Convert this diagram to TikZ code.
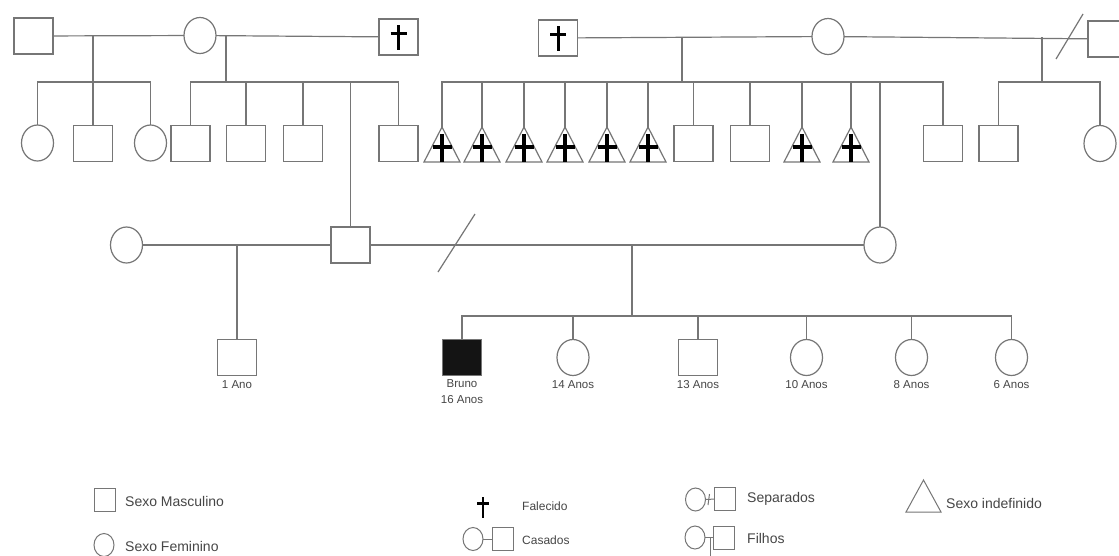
\documentclass[tikz,border=0pt]{standalone}
\usepackage{fontspec}
\setmainfont{Liberation Sans}
\usetikzlibrary{shapes.geometric}
\definecolor{lnc}{RGB}{118,118,118}
\definecolor{txc}{RGB}{70,70,70}
\begin{document}
\begin{tikzpicture}[x=1pt,y=-1pt,
  ln/.style={draw=lnc, line width=1.2pt},
  male/.style={rectangle, draw=lnc, line width=1.2pt, minimum width=39pt, minimum height=36pt, inner sep=0pt, outer sep=0pt},
  fem/.style={ellipse, draw=lnc, line width=1.2pt, minimum width=32pt, minimum height=36pt, inner sep=0pt, outer sep=0pt},
  unk/.style={rectangle, minimum width=36pt, minimum height=35pt, inner sep=0pt, outer sep=0pt},
  crossln/.style={draw=black, line width=3.2pt},
  lab/.style={text=txc, font=\fontsize{11.5}{13}\selectfont, inner sep=0pt},
  leg/.style={text=txc, font=\fontsize{14}{16}\selectfont, inner sep=0pt, anchor=west},
  legs/.style={text=txc, font=\fontsize{12}{14}\selectfont, inner sep=0pt, anchor=west},
  smale/.style={male, line width=1pt, minimum width=21pt, minimum height=23pt},
  sfem/.style={fem, line width=1pt, minimum width=20pt, minimum height=23pt},
]
\useasboundingbox (0,0) rectangle (1119,555);
\fill[white] (0,0) rectangle (1119,555);

% ---------- Generation I ----------
\node[male] (A) at (33.5,36) {};
\node[fem]  (B) at (200,35.5) {};
\node[male] (C) at (398.5,37) {};
\node[male] (D) at (558,38) {};
\node[fem]  (E) at (828,36.5) {};
\node[male] (F) at (1107.5,39) {};
% crosses (deceased)
\draw[crossln, line width=3pt] (398.5,25) -- (398.5,50);
\draw[crossln, line width=3pt] (390.5,33) -- (406.5,33);
\draw[crossln, line width=3pt] (558,26) -- (558,51);
\draw[crossln, line width=3pt] (550,34) -- (566,34);

% ---------- Generation I children ----------
\node[fem]  (a1) at (37.5,143) {};
\node[male] (a2) at (93,143.5) {};
\node[fem]  (a3) at (150.5,143) {};
\node[male] (b1) at (190.5,143.5) {};
\node[male] (b2) at (246,143.5) {};
\node[male] (b3) at (303,143.5) {};
\node[male] (b4) at (398.5,143.5) {};
\node[unk]  (t1) at (442,144.5) {};
\node[unk]  (t2) at (482,144.5) {};
\node[unk]  (t3) at (524,144.5) {};
\node[unk]  (t4) at (565,144.5) {};
\node[unk]  (t5) at (607,144.5) {};
\node[unk]  (t6) at (648,144.5) {};
\node[male] (s7) at (693.5,143.5) {};
\node[male] (s8) at (750,143.5) {};
\node[unk]  (t9) at (802,144.5) {};
\node[unk]  (t10) at (851,144.5) {};
\node[male] (s11) at (943,143.5) {};
\node[male] (r1) at (998.5,143.5) {};
\node[fem]  (r2) at (1100,143.5) {};

\foreach \n in {t1,t2,t3,t4,t5,t6,t9,t10}{
  \draw[ln] (\n.south west) -- (\n.south east) -- (\n.north) -- cycle;
  \draw[crossln, line width=3.6pt] ([yshift=-7pt]\n.north) -- (\n.south);
  \draw[crossln, line width=3.6pt] ([xshift=-9.5pt,yshift=-20pt]\n.north) -- ([xshift=9.5pt,yshift=-20pt]\n.north);
}

% ---------- Generation II ----------
\node[fem]  (G) at (126.5,245) {};
\node[male] (H) at (350.5,245) {};
\node[fem]  (I) at (880,245) {};

% ---------- Generation III ----------
\node[male] (K) at (237,357.5) {};
\node[male, fill=black!92] (P) at (462,357.5) {};
\node[fem]  (g14) at (573,357.5) {};
\node[male] (b13) at (698,357.5) {};
\node[fem]  (g10) at (806.5,357.5) {};
\node[fem]  (g8) at (911.5,357.5) {};
\node[fem]  (g6) at (1011.5,357.5) {};

\node[lab] (lK) at (237,385) {1 Ano};
\node[lab] (lP1) at (462,383.5) {Bruno};
\node[lab] (lP2) at (462,400) {16 Anos};
\node[lab] (l14) at (573,385) {14 Anos};
\node[lab] (l13) at (698,385) {13 Anos};
\node[lab] (l10) at (806.5,385) {10 Anos};
\node[lab] (l8) at (911.5,385) {8 Anos};
\node[lab] (l6) at (1011.5,385) {6 Anos};

% ---------- Connectors ----------
\coordinate (jAB) at (93,35);
\coordinate (sAB) at (93,82);
\draw[ln] (A) -- (B);
\draw[ln] (jAB) -- (sAB);
\draw[ln] (a1) |- (sAB) -| (a3);
\draw[ln] (sAB) -- (a2);

\coordinate (jBC) at (226,36);
\coordinate (sBC) at (226,82);
\draw[ln] (B) -- (C);
\draw[ln] (jBC) -- (sBC);
\draw[ln] (b1) |- (sBC) -| (b4);
\draw[ln] (b2) -- (b2 |- sBC);
\draw[ln] (b3) -- (b3 |- sBC);
\draw[ln] (H) -- (H |- sBC);

\coordinate (jDE) at (682,37);
\coordinate (sDE) at (682,82);
\draw[ln] (D) -- (E);
\draw[ln] (jDE) -- (sDE);
\draw[ln] (t1) |- (sDE) -| (s11);
\foreach \n in {t2,t3,t4,t5,t6,s7,s8,t9,t10,I}{
  \draw[ln] (\n) -- (\n |- sDE);
}

\coordinate (jEF) at (1042,37);
\coordinate (sEF) at (1042,82);
\draw[ln] (E) -- (F);
\draw[ln] (1056,59) -- (1083,14);
\draw[ln] (jEF) -- (sEF);
\draw[ln] (r1) |- (sEF) -| (r2);

\coordinate (jGH) at (237,245);
\draw[ln] (G) -- (H);
\draw[ln] (jGH) -- (K);

\coordinate (jHI) at (632,245);
\coordinate (sHI) at (632,316);
\draw[ln] (H) -- (I);
\draw[ln] (438,272) -- (475,214);
\draw[ln] (jHI) -- (sHI);
\draw[ln] (P) |- (sHI) -| (g6);
\foreach \n in {g14,b13,g10,g8}{
  \draw[ln] (\n) -- (\n |- sHI);
}

% ---------- Legend ----------
\node[smale] (lm) at (105,500) {};
\node[leg] (tm) at (125,501) {Sexo Masculino};
\node[sfem] (lf) at (104,545) {};
\node[leg] (tf) at (125,546) {Sexo Feminino};

\draw[crossln, line width=2.6pt] (483,497) -- (483,518);
\draw[crossln, line width=2.6pt] (477,503.5) -- (489,503.5);
\node[legs] (tfal) at (522,506) {Falecido};

\node[sfem] (cf) at (473,539) {};
\node[smale] (cm) at (503,539) {};
\draw[ln, line width=1pt] (cf) -- (cm);
\node[legs] (tcas) at (522,540) {Casados};

\node[sfem] (sf) at (695.5,499.5) {};
\node[smale] (sm) at (725,499) {};
\draw[ln, line width=1pt] (sf) -- (sm);
\draw[ln, line width=1pt] (709.5,494) -- (708,505);
\node[leg] (tsep) at (747,499) {Separados};

\node[sfem] (ff) at (695,537.5) {};
\node[smale] (fm) at (724,537.5) {};
\coordinate (jF) at (710,537.5);
\coordinate (dF) at (710,556);
\draw[ln, line width=1pt] (ff) -- (fm);
\draw[ln, line width=1pt] (jF) -- (dF);
\node[leg] (tfil) at (747,538) {Filhos};

\coordinate (ua) at (923.5,480);
\coordinate (ub) at (906,512);
\coordinate (uc) at (941,512);
\draw[ln, line width=1pt] (ub) -- (uc) -- (ua) -- cycle;
\node[leg] (tund) at (946,503) {Sexo indefinido};
\end{tikzpicture}
\end{document}
